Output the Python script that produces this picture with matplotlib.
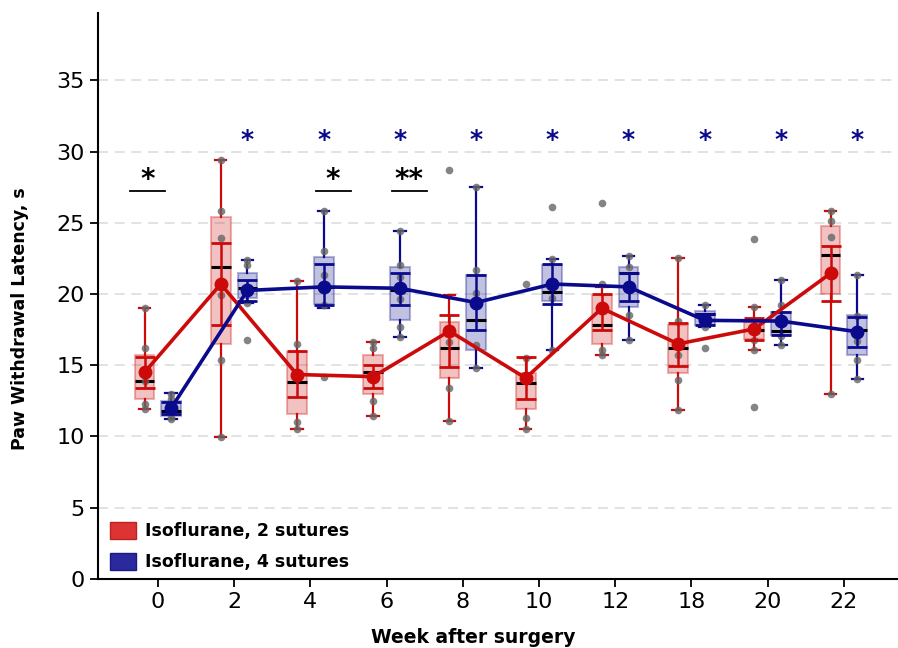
import numpy as np
import matplotlib
matplotlib.use("Agg")
import matplotlib.pyplot as plt
from matplotlib.patches import Patch

weeks = ['0', '2', '4', '6', '8', '10', '12', '18', '20', '22']

# Isoflurane, 2 sutures
red_mean = [14.5, 20.7, 14.35, 14.2, 17.4, 14.1, 19.0, 16.5, 17.55, 21.45]
red_sem_lo = [13.4, 17.8, 12.8, 13.4, 14.9, 12.65, 17.45, 14.95, 16.8, 19.5]
red_sem_hi = [15.6, 23.6, 16.0, 15.05, 18.5, 15.6, 20.0, 17.95, 18.3, 23.4]
red_q1 = [12.6, 16.5, 11.6, 12.95, 14.1, 11.95, 16.5, 14.45, 16.85, 20.0]
red_q3 = [15.75, 25.4, 15.9, 15.75, 18.0, 14.45, 19.95, 17.8, 18.0, 24.8]
red_med = [13.9, 21.9, 13.8, 14.5, 16.2, 13.75, 17.8, 16.2, 17.5, 22.75]
red_wlo = [11.9, 9.96, 10.55, 11.45, 11.1, 10.55, 15.75, 11.85, 16.05, 13.0]
red_whi = [19.0, 29.4, 20.9, 16.6, 19.9, 15.5, 20.5, 22.5, 19.1, 25.8]
red_pts = [
    [19.0, 16.2, 13.9, 12.3, 11.9],
    [29.4, 25.85, 23.9, 19.9, 15.35, 9.96],
    [20.9, 16.5, 11.0, 10.55],
    [16.6, 16.2, 12.5, 11.45],
    [28.7, 16.6, 13.4, 11.1],
    [20.7, 15.5, 11.3, 10.55],
    [26.4, 20.7, 16.1, 15.75],
    [22.5, 18.1, 15.75, 13.95, 11.85],
    [23.85, 19.1, 16.8, 16.05, 12.05],
    [25.8, 25.1, 24.0, 13.0],
]

# Isoflurane, 4 sutures
blue_mean = [12.0, 20.25, 20.5, 20.4, 19.4, 20.7, 20.5, 18.15, 18.1, 17.35]
blue_sem_lo = [11.6, 19.5, 19.2, 19.2, 17.45, 19.3, 19.5, 17.85, 17.15, 16.25]
blue_sem_hi = [12.4, 21.0, 22.1, 21.5, 21.3, 22.1, 21.5, 18.6, 18.75, 18.4]
blue_q1 = [11.45, 19.7, 19.3, 18.15, 16.1, 19.5, 19.1, 17.85, 17.1, 15.7]
blue_q3 = [12.5, 21.5, 22.6, 21.9, 21.3, 22.0, 21.9, 18.8, 18.75, 18.55]
blue_med = [11.8, 20.4, 20.5, 20.3, 18.15, 20.15, 21.5, 18.6, 17.4, 17.5]
blue_wlo = [11.2, 19.4, 19.0, 17.0, 14.8, 16.05, 16.8, 17.7, 16.4, 14.0]
blue_whi = [13.07, 22.4, 25.8, 24.45, 27.5, 22.45, 22.7, 19.2, 21.0, 21.3]
blue_pts = [
    [13.0, 12.6, 11.4, 11.2],
    [22.4, 22.0, 20.4, 19.4, 16.8],
    [25.8, 23.0, 21.3, 19.2, 14.2],
    [24.45, 22.05, 21.2, 19.65, 17.7, 17.0],
    [27.5, 21.7, 20.1, 16.45, 14.8],
    [26.1, 22.45, 19.7, 16.05],
    [22.7, 21.9, 18.5, 16.8],
    [19.2, 17.7, 16.2],
    [21.0, 19.25, 17.05, 16.4],
    [21.3, 18.45, 16.7, 15.4, 14.0],
]

# significance marks
blue_star_weeks = ['2', '4', '6', '8', '10', '12', '18', '20', '22']
pair_marks = [('0', '*'), ('4', '*'), ('6', '**')]

RED = '#cc0a0a'
BLUE = '#0a0a8c'

fig = plt.figure(figsize=(8.98, 6.48), dpi=100)
ax = fig.add_axes([0.109, 0.1065, 0.891, 0.873])

x = np.arange(len(weeks))
off = 0.175
bw = 0.26


def draw_group(pos, mean, slo, shi, q1, q3, med, wlo, whi, pts, col):
    stats = []
    for i in range(len(pos)):
        stats.append(dict(med=med[i], q1=q1[i], q3=q3[i],
                          whislo=wlo[i], whishi=whi[i], fliers=[]))
    rgb = matplotlib.colors.to_rgb(col)
    ax.bxp(stats, positions=pos, widths=bw, patch_artist=True,
           showfliers=False, capwidths=0.15,
           boxprops=dict(facecolor=rgb + (0.25,), edgecolor=rgb + (0.3,), lw=1.5),
           whiskerprops=dict(color=col, lw=1.6),
           capprops=dict(color=col, lw=1.6),
           medianprops=dict(color='black', lw=2.2), zorder=2)
    for i, p in enumerate(pts):
        ax.plot([pos[i]] * len(p), p, 'o', ms=5.5, color='#666666',
                alpha=0.8, zorder=3, mec='none')
    mean = np.array(mean)
    ax.errorbar(pos, mean, yerr=[mean - np.array(slo), np.array(shi) - mean],
                fmt='none', ecolor=col, elinewidth=1.8, capsize=7,
                capthick=2, zorder=4)
    ax.plot(pos, mean, '-o', color=col, lw=2.6, ms=9, zorder=5)


draw_group(x - off, red_mean, red_sem_lo, red_sem_hi, red_q1, red_q3,
           red_med, red_wlo, red_whi, red_pts, RED)
draw_group(x + off, blue_mean, blue_sem_lo, blue_sem_hi, blue_q1, blue_q3,
           blue_med, blue_wlo, blue_whi, blue_pts, BLUE)

for w in blue_star_weeks:
    i = weeks.index(w)
    ax.text(i + off, 30.8, '*', color=BLUE, fontsize=18, ha='center',
            va='center', fontweight='bold')

for w, s in pair_marks:
    i = weeks.index(w)
    if w == '0':
        x0, x1 = i - 0.37, i + 0.09
    else:
        x0, x1 = i + 0.07, i + 0.53
    ax.plot([x0, x1], [27.2, 27.2], color='black', lw=1.3)
    ax.text((x0 + x1) / 2, 28.0, s, color='black', fontsize=20,
            ha='center', va='center', fontweight='bold')

ax.set_xlim(-0.787, 9.71)
ax.set_ylim(0, 39.7)
ax.set_xticks(x)
ax.set_xticklabels(weeks)
ax.set_yticks(np.arange(0, 40, 5))
ax.tick_params(labelsize=16, length=6, width=1.3)
for yv in range(5, 40, 5):
    ax.axhline(yv, color='#dddddd', lw=1.2, ls=(0, (6, 4)), zorder=0)
ax.spines['top'].set_visible(False)
ax.spines['right'].set_visible(False)
ax.spines['left'].set_linewidth(1.5)
ax.spines['bottom'].set_linewidth(1.5)

ax.set_ylabel('Paw Withdrawal Latency, s', fontsize=12.5, fontweight='heavy')
ax.yaxis.set_label_coords(-0.086, 0.46)
ax.set_xlabel('Week after surgery', fontsize=13.5, fontweight='heavy')
ax.xaxis.set_label_coords(0.469, -0.086)

handles = [Patch(facecolor='#dd3333', edgecolor='#bb2222', label='Isoflurane, 2 sutures'),
           Patch(facecolor='#2a2a9e', edgecolor='#1a1a80', label='Isoflurane, 4 sutures')]
ax.legend(handles=handles, loc='lower left', bbox_to_anchor=(0.0, -0.008),
          frameon=False, prop=dict(size=12.5, weight='bold'),
          handlelength=1.5, handleheight=1.1, handletextpad=0.5,
          labelspacing=0.75, borderaxespad=0.3)

fig.savefig('out.png', dpi=100)
